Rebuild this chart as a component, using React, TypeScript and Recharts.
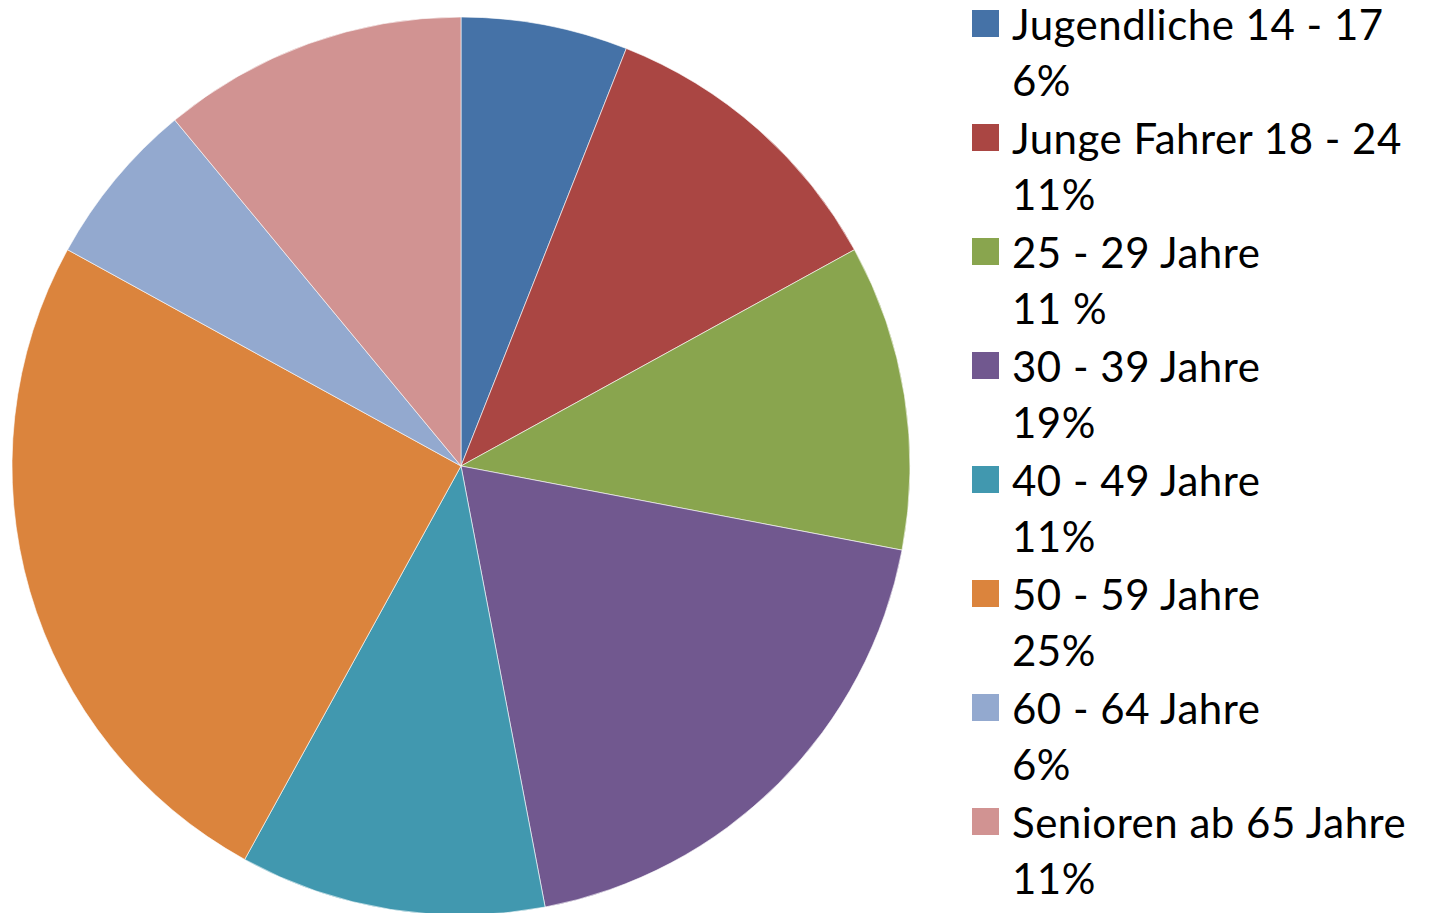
import React from "react"
import { PieChart, Pie, Cell, Legend } from "recharts"

const categories = [
  "Jugendliche 14 - 17",
  "Junge Fahrer 18 - 24",
  "25 - 29 Jahre",
  "30 - 39 Jahre",
  "40 - 49 Jahre",
  "50 - 59 Jahre",
  "60 - 64 Jahre",
  "Senioren ab 65 Jahre",
]

const values = [6, 11, 11, 19, 11, 25, 6, 11]

const percentLabels = ["6%", "11%", "11 %", "19%", "11%", "25%", "6%", "11%"]

const colors = [
  "#4572A7",
  "#AA4643",
  "#89A54E",
  "#71588F",
  "#4198AF",
  "#DB843D",
  "#93A9CF",
  "#D19392",
]

const data = categories.map((name, i) => ({ name, value: values[i] }))

function LegendList() {
  return (
    <div style={{ fontFamily: "Lato, sans-serif", fontSize: 42, letterSpacing: 0.5, color: "#000" }}>
      {categories.map((name, i) => (
        <div key={name} style={{ height: 114, position: "relative" }}>
          <div
            style={{
              position: "absolute",
              left: 0,
              top: 10,
              width: 27,
              height: 27,
              background: colors[i],
            }}
          />
          <div style={{ position: "absolute", left: 40, top: 3, lineHeight: "42px", whiteSpace: "nowrap" }}>
            {name}
          </div>
          <div style={{ position: "absolute", left: 40, top: 59, lineHeight: "42px", whiteSpace: "nowrap" }}>
            {percentLabels[i]}
          </div>
        </div>
      ))}
    </div>
  )
}

export default function App() {
  return (
    <div style={{ position: "absolute", left: 0, top: 0, width: 1429, height: 913, background: "#fff" }}>
      <PieChart width={1429} height={913} margin={{ top: 0, right: 0, bottom: 0, left: 0 }}>
        <Pie
          data={data}
          dataKey="value"
          nameKey="name"
          cx={461}
          cy={466}
          outerRadius={449}
          startAngle={90}
          endAngle={-270}
          stroke="#ffffff"
          strokeWidth={0.6}
          isAnimationActive={false}
        >
          {data.map((d, i) => (
            <Cell key={d.name} fill={colors[i]} />
          ))}
        </Pie>
        <Legend
          layout="vertical"
          align="right"
          verticalAlign="top"
          wrapperStyle={{ left: 972, top: 0, width: 457 }}
          content={() => <LegendList />}
        />
      </PieChart>
    </div>
  )
}
